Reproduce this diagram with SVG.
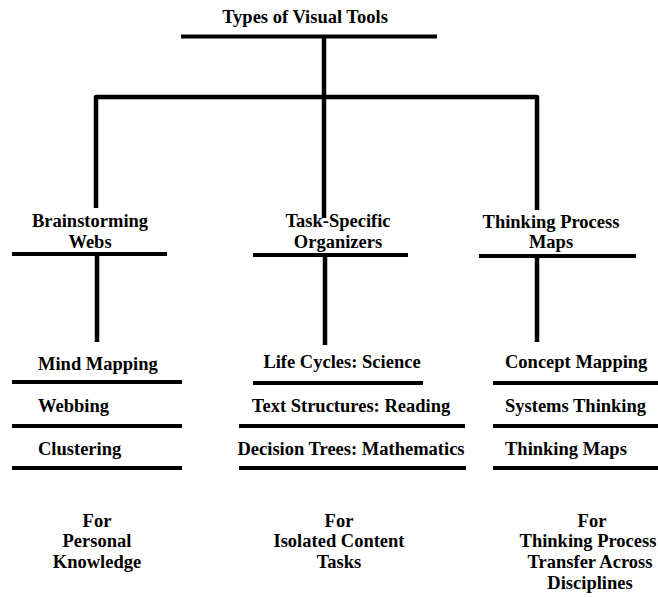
<svg xmlns="http://www.w3.org/2000/svg" width="658" height="597" viewBox="0 0 658 597">
<style>
text{font-family:"Liberation Serif","Times New Roman",serif;font-weight:bold;font-size:18.5px;fill:#000}
.c{text-anchor:middle}
.bar{stroke:#000;stroke-width:4;fill:none}
.con{stroke:#000;stroke-width:4.5;fill:none;stroke-linejoin:round}
</style>
<rect width="658" height="597" fill="#fff"/>
<g id="connectors">
<line class="con" x1="324" y1="36" x2="324" y2="218"/>
<path class="con" d="M96,208 V97 H537 V210"/>
<line class="con" x1="97" y1="254" x2="97" y2="342"/>
<line class="con" x1="325" y1="255" x2="325" y2="345"/>
<line class="con" x1="537" y1="256" x2="537" y2="342"/>
</g>
<g id="root">
<text class="c" x="305" y="23">Types of Visual Tools</text>
<line class="bar" x1="181" y1="36.5" x2="437" y2="36.5"/>
</g>
<g id="brainstorming">
<text class="c" x="90" y="227">Brainstorming</text>
<text class="c" x="90" y="248">Webs</text>
<line class="bar" x1="12" y1="254" x2="167" y2="254"/>
</g>
<g id="task-specific">
<text class="c" x="338" y="227">Task-Specific</text>
<text class="c" x="338" y="248">Organizers</text>
<line class="bar" x1="253" y1="255" x2="408" y2="255"/>
</g>
<g id="thinking-process">
<text class="c" x="551" y="228">Thinking Process</text>
<text class="c" x="551" y="248">Maps</text>
<line class="bar" x1="479" y1="256" x2="636" y2="256"/>
</g>
<g id="mind-mapping"><text x="38" y="370">Mind Mapping</text><line class="bar" x1="12" y1="382" x2="182" y2="382"/></g>
<g id="webbing"><text x="38" y="412">Webbing</text><line class="bar" x1="12" y1="426" x2="182" y2="426"/></g>
<g id="clustering"><text x="38" y="455">Clustering</text><line class="bar" x1="12" y1="468" x2="182" y2="468"/></g>
<g id="life-cycles"><text class="c" x="342" y="368">Life Cycles: Science</text><line class="bar" x1="253" y1="383" x2="423" y2="383"/></g>
<g id="text-structures"><text class="c" x="351" y="412">Text Structures: Reading</text><line class="bar" x1="239" y1="426" x2="465" y2="426"/></g>
<g id="decision-trees"><text class="c" x="351" y="455">Decision Trees: Mathematics</text><line class="bar" x1="239" y1="468" x2="466" y2="468"/></g>
<g id="concept-mapping"><text x="505" y="368">Concept Mapping</text><line class="bar" x1="493" y1="383" x2="658" y2="383"/></g>
<g id="systems-thinking"><text x="505" y="412">Systems Thinking</text><line class="bar" x1="493" y1="426" x2="658" y2="426"/></g>
<g id="thinking-maps"><text x="505" y="455">Thinking Maps</text><line class="bar" x1="493" y1="468" x2="658" y2="468"/></g>
<g id="personal">
<text class="c" x="97" y="527">For</text>
<text class="c" x="97" y="547">Personal</text>
<text class="c" x="97" y="568">Knowledge</text>
</g>
<g id="isolated">
<text class="c" x="339" y="527">For</text>
<text class="c" x="339" y="547">Isolated Content</text>
<text class="c" x="339" y="568">Tasks</text>
</g>
<g id="transfer">
<text class="c" x="592" y="527">For</text>
<text class="c" x="588" y="547">Thinking Process</text>
<text class="c" x="590" y="568">Transfer Across</text>
<text class="c" x="590" y="589">Disciplines</text>
</g>
</svg>
